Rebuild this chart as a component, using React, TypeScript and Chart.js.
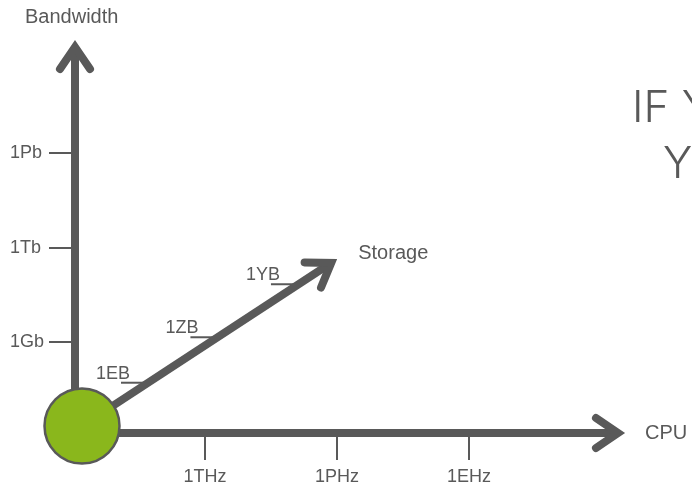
import React, { useEffect, useRef } from 'react';
import { Chart, registerables } from 'chart.js';

Chart.register(...registerables);

// ---- data ----
const cpuTickValues = [1, 2, 3];
const cpuTickLabels = ['1THz', '1PHz', '1EHz'];
const bandwidthTickValues = [1, 2, 3];
const bandwidthTickLabels = ['1Gb', '1Tb', '1Pb'];
const storageTickLabels = ['1EB', '1ZB', '1YB'];
const storageTickX = [0.568, 1.094, 1.704];
const storageTickY = [0.572, 1.053, 1.614];
const originPoint = [{ x: 0.068, y: 0.114 }];
const storageArrow = [{ x: 0.068, y: 0.114 }, { x: 1.956, y: 1.84 }];
const xRange = [0.015, 4.121];
const yRange = [0.04, 4.082];
const cpuTitle = 'CPU';
const bandwidthTitle = 'Bandwidth';
const storageTitle = 'Storage';
const headlineLines = ['IF YOU', 'YOU'];

// ---- styles ----
const GRAY = '#595959';
const GREEN = '#8ab71c';
const SANS = '"Liberation Sans", Arial, Helvetica, sans-serif';

function drawHead(ctx: CanvasRenderingContext2D, tx: number, ty: number, dx: number, dy: number) {
  const len = Math.hypot(dx, dy);
  const ux = dx / len;
  const uy = dy / len;
  const back = 22;
  const half = 15;
  const bx = tx - ux * back;
  const by = ty - uy * back;
  ctx.beginPath();
  ctx.moveTo(bx - uy * half, by + ux * half);
  ctx.lineTo(tx, ty);
  ctx.lineTo(bx + uy * half, by - ux * half);
  ctx.stroke();
}

const diagramPlugin = {
  id: 'diagram',
  beforeDatasetsDraw(chart: any) {
    const { ctx, scales } = chart;
    const xs = scales.x;
    const ys = scales.y;
    ctx.save();
    ctx.strokeStyle = GRAY;
    ctx.fillStyle = GRAY;
    ctx.lineWidth = 2;
    ctx.font = '18px ' + SANS;
    ctx.textAlign = 'left';
    ctx.textBaseline = 'alphabetic';
    storageTickX.forEach((v, i) => {
      const px = xs.getPixelForValue(v);
      const py = ys.getPixelForValue(storageTickY[i]);
      ctx.beginPath();
      ctx.moveTo(px - 27, py);
      ctx.lineTo(px, py);
      ctx.stroke();
      ctx.fillText(storageTickLabels[i], px - 52, py - 4);
    });
    ctx.restore();
  },
  afterDraw(chart: any) {
    const { ctx, scales, chartArea } = chart;
    const xs = scales.x;
    const ys = scales.y;
    ctx.save();
    ctx.strokeStyle = GRAY;
    ctx.fillStyle = GRAY;
    ctx.lineWidth = 8;
    ctx.lineCap = 'round';
    ctx.lineJoin = 'miter';
    ctx.miterLimit = 10;

    // CPU arrow head
    const cpuTipX = chartArea.right + 1;
    const cpuTipY = chartArea.bottom;
    drawHead(ctx, cpuTipX, cpuTipY, 1, 0);
    // Bandwidth arrow head
    const bwTipX = chartArea.left;
    const bwTipY = chartArea.top - 4;
    drawHead(ctx, bwTipX, bwTipY, 0, -1);
    // Storage arrow head
    const sx0 = xs.getPixelForValue(storageArrow[0].x);
    const sy0 = ys.getPixelForValue(storageArrow[0].y);
    const stX = xs.getPixelForValue(storageArrow[1].x);
    const stY = ys.getPixelForValue(storageArrow[1].y);
    drawHead(ctx, stX, stY, stX - sx0, stY - sy0);

    // axis titles
    ctx.font = '20px ' + SANS;
    ctx.textAlign = 'left';
    ctx.textBaseline = 'alphabetic';
    ctx.fillText(bandwidthTitle, bwTipX - 50, bwTipY - 24);
    ctx.fillText(cpuTitle, cpuTipX + 27, cpuTipY + 6);
    ctx.fillText(storageTitle, stX + 27, stY - 4);

    // headline (thin)
    ctx.font = '300 44px Inter, "Open Sans", sans-serif';
    ctx.fillText(headlineLines[0], 632, 122);
    ctx.fillText(headlineLines[1], 663, 178);
    ctx.restore();
  },
};

export default function App() {
  const canvasRef = useRef<HTMLCanvasElement | null>(null);

  useEffect(() => {
    const canvas = canvasRef.current;
    if (!canvas) return;
    const chart = new Chart(canvas, {
      type: 'scatter',
      data: {
        datasets: [
          {
            data: originPoint,
            pointRadius: 37.5,
            pointHoverRadius: 37.5,
            pointBackgroundColor: GREEN,
            pointBorderColor: GRAY,
            pointBorderWidth: 2.5,
            showLine: false,
            clip: false as any,
          },
          {
            data: storageArrow,
            showLine: true,
            borderColor: GRAY,
            borderWidth: 8,
            borderCapStyle: 'butt',
            pointRadius: 0,
            clip: false as any,
          },
        ],
      },
      options: {
        responsive: false,
        animation: false,
        events: [],
        layout: { padding: { top: 51, right: 75, left: 10, bottom: 0 } },
        plugins: { legend: { display: false }, tooltip: { enabled: false } },
        scales: {
          x: {
            type: 'linear',
            min: xRange[0],
            max: xRange[1],
            afterFit: (s: any) => { s.height = 50; },
            afterBuildTicks: (s: any) => { s.ticks = cpuTickValues.map((v) => ({ value: v })); },
            grid: { drawOnChartArea: false, drawTicks: true, tickLength: 27, color: GRAY, lineWidth: 2 },
            border: { display: true, color: GRAY, width: 8 },
            ticks: {
              autoSkip: false,
              maxRotation: 0,
              padding: 6,
              color: GRAY,
              font: { size: 18, family: SANS },
              callback: (v: any) => {
                const i = cpuTickValues.indexOf(Number(v));
                return i >= 0 ? cpuTickLabels[i] : '';
              },
            },
          },
          y: {
            type: 'linear',
            min: yRange[0],
            max: yRange[1],
            afterFit: (s: any) => { s.width = 65; },
            afterBuildTicks: (s: any) => { s.ticks = bandwidthTickValues.map((v) => ({ value: v })); },
            grid: { drawOnChartArea: false, drawTicks: true, tickLength: 26, color: GRAY, lineWidth: 2 },
            border: { display: true, color: GRAY, width: 8 },
            ticks: {
              autoSkip: false,
              crossAlign: 'far',
              padding: 6,
              color: GRAY,
              font: { size: 18, family: SANS },
              callback: (v: any) => {
                const i = bandwidthTickValues.indexOf(Number(v));
                return i >= 0 ? bandwidthTickLabels[i] : '';
              },
            },
          },
        },
      },
      plugins: [diagramPlugin],
    });
    return () => chart.destroy();
  }, []);

  return (
    <canvas
      ref={canvasRef}
      width={692}
      height={483}
      style={{ position: 'fixed', left: 0, top: 0, width: 692, height: 483 }}
    />
  );
}
